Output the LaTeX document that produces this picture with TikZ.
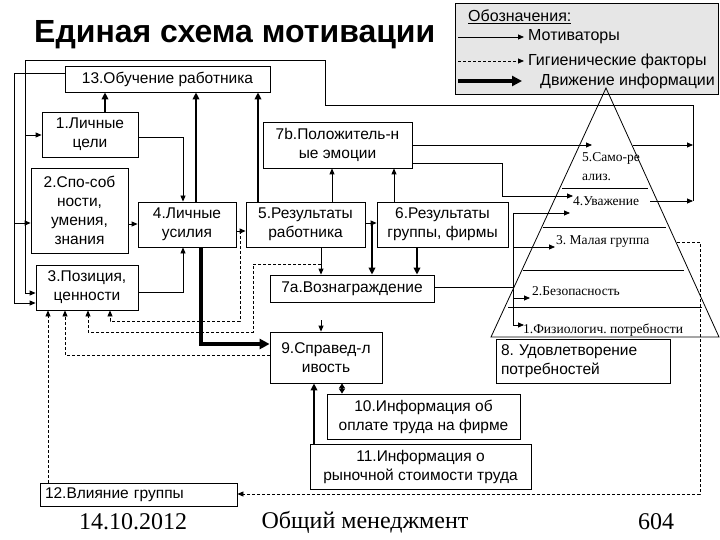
\documentclass[tikz,border=0pt]{standalone}
\usepackage{fontspec}
\setmainfont{Liberation Serif}
\setsansfont{Liberation Sans}
\usetikzlibrary{arrows.meta}
\definecolor{leggray}{RGB}{230,230,230}
\frenchspacing
\begin{document}
\begin{tikzpicture}[x=1pt,y=-1pt,
  box/.style={draw, line width=0.8pt, inner sep=0pt, align=center, font=\sffamily\fontsize{15.5}{19}\selectfont},
  lbox/.style={draw, line width=0.8pt, inner ysep=0pt, inner xsep=5pt, align=left, font=\sffamily\fontsize{15.5}{19}\selectfont},
  plain/.style={line width=0.8pt},
  mot/.style={line width=0.8pt, -{Triangle[length=6pt,width=5pt]}},
  hyg/.style={line width=0.8pt, dash pattern=on 3pt off 2pt, -{Triangle[length=6pt,width=5pt]}},
  med/.style={line width=2.2pt, -{Triangle[length=7pt,width=6.5pt]}},
  meddbl/.style={line width=2pt, {Triangle[length=5pt,width=6pt]}-{Triangle[length=5pt,width=6pt]}},
  info/.style={line width=4.5pt, -{Triangle[length=10pt,width=10pt]}},
  plab/.style={anchor=west, inner sep=0pt, font=\fontsize{13.5}{16}\selectfont},
  ltxt/.style={anchor=west, inner sep=0pt, font=\sffamily\fontsize{16}{18}\selectfont},
  foot/.style={font=\fontsize{24}{28}\selectfont}
]
\useasboundingbox (0,0) rectangle (720,540);
\fill[white] (0,0) rectangle (720,540);

% title
\node[anchor=west, inner sep=0pt, font=\sffamily\bfseries\fontsize{32}{36}\selectfont] (title) at (34,35) {Единая схема мотивации};

% legend
\node[draw, line width=0.8pt, fill=leggray, anchor=north west, minimum width=263pt, minimum height=91pt, inner sep=0pt] (leg) at (455,3) {};
\node[ltxt] (legt) at (468,17) {\underline{Обозначения:}};
\draw[mot] (458,37) -- (524,37);
\node[ltxt] (legm) at (528,37) {Мотиваторы};
\draw[hyg] (458,61) -- (524,61);
\node[ltxt] (legh) at (528,61) {Гигиенические факторы};
\draw[info] (458,81) -- (522,81);
\node[ltxt] (legi) at (540,81) {Движение информации};

% pyramid
\draw[plain] (606,88) -- (491,337) -- (719,337) -- cycle;
\draw[plain] (562,188) -- (648,188);
\draw[plain] (543,227) -- (666,227);
\draw[plain] (523,270) -- (684,270);
\draw[plain] (508,307) -- (702,307);
\node[plab] (p5a) at (582,158) {5.Само-ре};
\node[plab] (p5b) at (582,177) {ализ.};
\node[plab] (p4) at (573,201) {4.Уважение};
\node[plab] (p3) at (556,241) {3. Малая группа};
\node[plab] (p2) at (532,291) {2.Безопасность};
\node[plab] (p1) at (523,330) {1.Физиологич. потребности};

% boxes
\node[box, minimum width=205pt, minimum height=26pt] (b13) at (167.5,79) {13.Обучение работника};
\node[box, minimum width=96pt, minimum height=45pt] (b1) at (90,134.5) {1.Личные\\цели};
\node[box, minimum width=97pt, minimum height=85pt] (b2) at (79.5,210.5) {2.Спо-соб\\ности,\\умения,\\знания};
\node[box, minimum width=102pt, minimum height=45pt] (b3) at (87,287.5) {3.Позиция,\\ценности};
\node[box, minimum width=98pt, minimum height=45pt] (b4) at (187,224.5) {4.Личные\\усилия};
\node[box, minimum width=119pt, minimum height=45pt] (b5) at (305.5,224.5) {5.Результаты\\работника};
\node[box, minimum width=131pt, minimum height=45pt] (b6) at (442.5,224.5) {6.Результаты\\группы, фирмы};
\node[box, minimum width=149pt, minimum height=46pt] (b7b) at (337.5,145) {7b.Положитель-н\\ые эмоции};
\node[box, minimum width=164pt, minimum height=27pt] (b7a) at (352,288.5) {7a.Вознаграждение};
\node[box, minimum width=112pt, minimum height=51pt] (b9) at (326,357.5) {9.Справед-л\\ивость};
\node[box, minimum width=193pt, minimum height=45pt] (b10) at (423.5,416.5) {10.Информация об\\оплате труда на фирме};
\node[box, minimum width=221pt, minimum height=45pt] (b11) at (420.5,466.5) {11.Информация о\\рыночной стоимости труда};
\node[lbox, text width=187pt, minimum height=23pt] (b12) at (138.5,494.5) {12.Влияние группы};
\node[lbox, text width=164pt, minimum height=44pt] (b8) at (583,361) {8. Удовлетворение\\потребностей};

% connectors to 13
\draw[med] (b1.north -| 105,0) -- (b13.south -| 105,0);
\draw[med] (b4.north -| 196,0) -- (b13.south -| 196,0);
\draw[med] (b5.north -| 258,0) -- (b13.south -| 258,0);

% into 4
\draw[mot] (b1.east |- 0,137) -| (183,0 |- b4.north);
\draw[mot] (b2.east |- 0,224) -- (b4.west |- 0,224);
\draw[mot] (b3.east |- 0,292) -| (183,0 |- b4.south);

% 4 -> 5 -> 6
\draw[mot] (b4.east |- 0,231) -- (b5.west |- 0,231);
\draw[mot] (b5.east |- 0,223) -- (b6.west |- 0,223);
\draw[med] (372,223) -- (372,0 |- b7a.north);

% to 7b
\draw[mot] (b5.north -| 332,0) -- (b7b.south -| 332,0);
\draw[mot] (b6.north -| 394,0) -- (b7b.south -| 394,0);

% to 7a
\draw[mot] (b5.south -| 321,0) -- (b7a.north -| 321,0);
\draw[med] (b6.south -| 417,0) -- (b7a.north -| 417,0);

% to 9
\draw[mot] (321,320) -- (321,0 |- b9.north);
\draw[info] (b4.south -| 201,0) |- (b9.west |- 0,344);
\draw[med] (b11.north -| 314,0) -- (b9.south -| 314,0);
\draw[meddbl] (b10.north -| 342,0) -- (b9.south -| 342,0);

% 7b -> pyramid
\draw[mot] (b7b.east |- 0,145) -- (592,145);
\draw[mot] (b7b.east |- 0,163) -| (502,196) -- (573,196);
\draw[mot] (633,145) -- (693,145);
\draw[mot] (650,201) -- (693,201);

% outer feedback lines
\draw[mot] (693,201) |- (325,105) |- (25,60) |- (b3.west |- 0,293);
\draw[mot] (25,135) -- (b1.west |- 0,135);
\draw[mot] (b13.west |- 0,73) -| (14,303) -- (b3.west |- 0,303);
\draw[mot] (14,223) -- (b2.west |- 0,223);

% 7a -> pyramid levels
\draw[plain] (b7a.east |- 0,287) -- (513,287);
\draw[plain] (513,213) -- (513,325);
\draw[mot] (513,213) -- (570,213);
\draw[mot] (513,247) -- (555,247);
\draw[mot] (513,298) -- (530,298);
\draw[mot] (513,325) -- (524,325);

% hygiene factors
\draw[hyg] (677,242) -| (700,494) -- (b12.east |- 0,494);
\draw[hyg] (b12.north -| 48,0) -- (b3.south -| 48,0);
\draw[hyg] (b9.west |- 0,355) -| (b3.south -| 65,0);
\draw[hyg] (321,264) -| (253,332) -| (b3.south -| 88,0);
\draw[hyg] (240,231) -- (240,321) -| (b3.south -| 110,0);

% footer
\node[foot] (fdate) at (133,522) {14.10.2012};
\node[foot] (fname) at (365,522) {Общий менеджмент};
\node[foot] (fpage) at (656,522) {604};
\end{tikzpicture}
\end{document}
